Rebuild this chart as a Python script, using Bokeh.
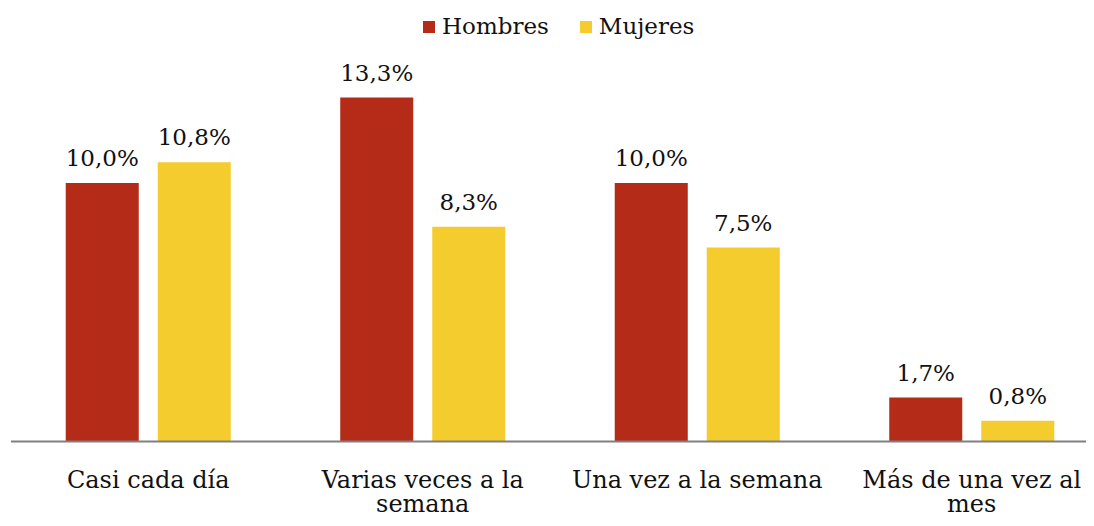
from bokeh.plotting import figure
from bokeh.models import Range1d, Legend, LegendItem, ColumnDataSource
from bokeh.core.properties import value
from bokeh.embed import file_html
from bokeh.resources import INLINE

categories = ["Casi cada día", "Varias veces a la\nsemana", "Una vez a la semana", "Más de una vez al\nmes"]
hombres = [10.0, 13.3, 10.0, 1.7]
mujeres = [10.8, 8.3, 7.5, 0.8]
series_names = ["Hombres", "Mujeres"]
colors = ["#B42C17", "#F4CC2E"]

FONT = "DejaVu Serif"

def fmt(v):
    return ("%.1f%%" % v).replace(".", ",")

p = figure(width=1086, height=518, output_backend="svg", toolbar_location=None,
           x_range=Range1d(-0.03825, 3.918), y_range=Range1d(-2.978, 17.053),
           min_border=0, outline_line_color=None)
p.xaxis.visible = False
p.yaxis.visible = False
p.xgrid.visible = False
p.ygrid.visible = False
p.background_fill_color = "white"
p.border_fill_color = "white"

xc = [i + 0.5 for i in range(len(categories))]
off = 0.1676
bw = 0.266

renderers = []
for vals, col, sgn in [(hombres, colors[0], -1), (mujeres, colors[1], 1)]:
    src = ColumnDataSource(dict(x=[c + sgn * off for c in xc], top=vals,
                                lab=[fmt(v) for v in vals]))
    r = p.vbar(x="x", top="top", bottom=0, width=bw, source=src, fill_color=col, line_color=None)
    renderers.append(r)
    p.text(x="x", y="top", text="lab", source=src, text_align="center", text_baseline="bottom",
           y_offset=-12, text_font=value(FONT), text_font_size="23px", text_color="#111111")

# baseline axis line
p.segment(x0=[0], y0=[0], x1=[4.2], y1=[0], line_color="#808080", line_width=2)

# category labels
p.text(x=xc, y=[0] * len(xc), text=categories, text_align="center", text_baseline="top",
       y_offset=25, text_font=value(FONT), text_font_size="24px", text_color="#111111",
       text_line_height=0.85)

legend = Legend(items=[LegendItem(label=series_names[0], renderers=[renderers[0]]),
                       LegendItem(label=series_names[1], renderers=[renderers[1]])],
                orientation="horizontal", location=(421, 479),
                label_text_font=FONT, label_text_font_size="23px", label_text_color="#111111",
                glyph_width=15, glyph_height=15, spacing=29, padding=0, margin=0,
                label_standoff=6, border_line_color=None, background_fill_alpha=0)
p.add_layout(legend)

open("out.html", "w").write(file_html(p, INLINE))
